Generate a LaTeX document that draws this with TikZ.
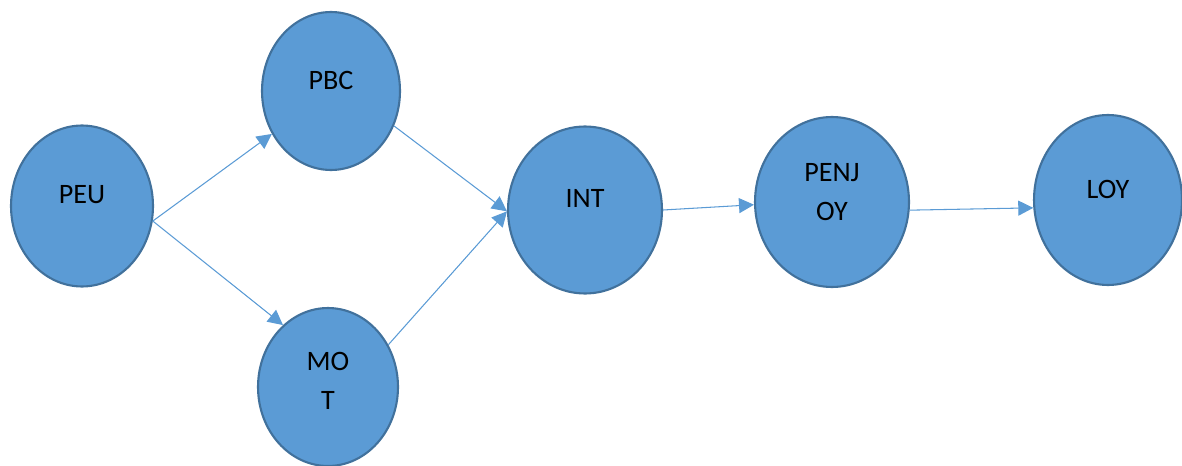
\documentclass[tikz,border=0pt]{standalone}
\usepackage{fontspec}
\setmainfont{Carlito}
\usepackage{tikz}
\usetikzlibrary{arrows.meta,shapes.geometric,positioning}
\definecolor{ofblue}{RGB}{91,155,213}
\definecolor{ofborder}{RGB}{65,113,156}
\tikzstyle{bubble} = [ellipse, draw=ofborder, fill=ofblue, line width=1.2pt, inner sep=0pt]
\tikzstyle{caption} = [align=center, font=\fontsize{16}{22}\selectfont, inner sep=0pt]
\tikzstyle{arrow} = [line width=0.6pt, color=ofblue, -{Triangle[length=0.3cm,width=0.3cm]}]

\begin{document}
\begin{tikzpicture}[x=0.02cm, y=-0.02cm]
\useasboundingbox (0,0) rectangle (1182,466);
\node[bubble, minimum width=2.84cm, minimum height=3.22cm] (peu) at (82,206) {};
\node[bubble, minimum width=2.76cm, minimum height=3.16cm] (pbc) at (331,91) {};
\node[bubble, minimum width=2.80cm, minimum height=3.16cm] (mot) at (328,387) {};
\node[bubble, minimum width=3.08cm, minimum height=3.34cm] (int) at (585,210) {};
\node[bubble, minimum width=3.08cm, minimum height=3.40cm] (penjoy) at (832,202) {};
\node[bubble, minimum width=2.96cm, minimum height=3.40cm] (loy) at (1108,200) {};
% texts sit a bit above the centres
\node[caption] (peu-t) at ([yshift=0.22cm]peu.center) {PEU};
\node[caption] (pbc-t) at ([yshift=0.22cm]pbc.center) {PBC};
\node[caption] (mot-t) at ([yshift=0.12cm]mot.center) {MO\\T};
\node[caption] (int-t) at ([yshift=0.24cm]int.center) {INT};
\node[caption] (penjoy-t) at ([yshift=0.2cm]penjoy.center) {PENJ\\OY};
\node[caption] (loy-t) at ([yshift=0.22cm]loy.center) {LOY};
\draw[arrow] (peu.-12) -- (pbc.216);
\draw[arrow] (peu.-12) -- (mot.126);
\draw[arrow] (pbc.-29) -- (int.181);
\draw[arrow] (mot.35) -- (int.181);
\draw[arrow] (int.0) -- (penjoy.182);
\draw[arrow] (penjoy.-6) -- (loy.186);
\end{tikzpicture}
\end{document}
